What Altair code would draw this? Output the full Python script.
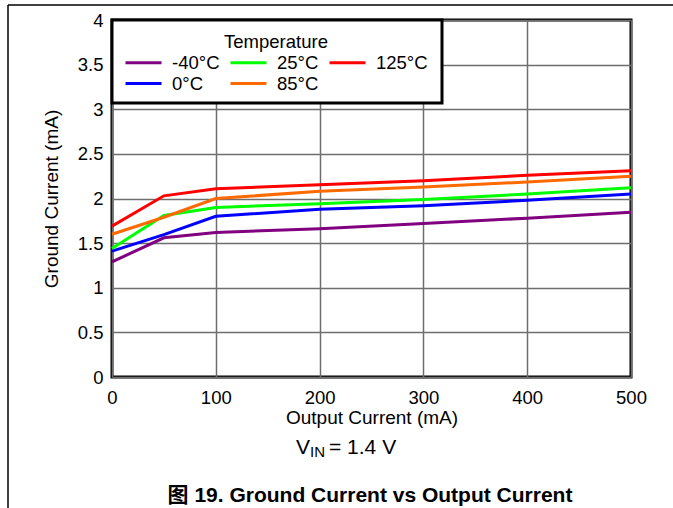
import altair as alt
import pandas as pd

# ---- data ----
output_current = [0, 50, 100, 200, 300, 400, 500]
temps = ["-40°C", "0°C", "25°C", "85°C", "125°C"]
gnd_m40 = [1.29, 1.56, 1.62, 1.66, 1.72, 1.78, 1.845]
gnd_0 = [1.41, 1.595, 1.80, 1.88, 1.92, 1.98, 2.05]
gnd_25 = [1.44, 1.81, 1.90, 1.94, 1.99, 2.05, 2.12]
gnd_85 = [1.60, 1.79, 2.00, 2.08, 2.13, 2.185, 2.25]
gnd_125 = [1.69, 2.03, 2.11, 2.155, 2.20, 2.26, 2.31]
series = [gnd_m40, gnd_0, gnd_25, gnd_85, gnd_125]

legend_order = ["-40°C", "25°C", "125°C", "0°C", "85°C"]
legend_colors = ["#800080", "#00ff00", "#ff0000", "#0000ff", "#ff6a00"]

x_ticks = [0, 100, 200, 300, 400, 500]
y_ticks = [0, 0.5, 1, 1.5, 2, 2.5, 3, 3.5, 4]

rows = []
for t, vals in zip(temps, series):
    for xv, yv in zip(output_current, vals):
        rows.append({"Output": xv, "Ground": yv, "Temperature": t})
df = pd.DataFrame(rows)
one = pd.DataFrame({"k": [0]})

FONT = "Liberation Sans, Arial, 'Noto Sans CJK SC', sans-serif"
W, H = 519, 357
FS = 18.5

lines = alt.Chart(df).mark_line(strokeWidth=3).encode(
    x=alt.X("Output:Q",
            scale=alt.Scale(domain=[0, 500], nice=False, zero=False),
            axis=alt.Axis(values=x_ticks, title="Output Current (mA)",
                          labelPadding=11, titlePadding=2, format="d",
                          labelFlush=False)),
    y=alt.Y("Ground:Q",
            scale=alt.Scale(domain=[0, 4], nice=False),
            axis=alt.Axis(values=y_ticks, title="Ground Current (mA)",
                          format="~g", labelPadding=9, titlePadding=16,
                          labelFlush=False)),
    color=alt.Color("Temperature:N",
                    sort=legend_order,
                    scale=alt.Scale(domain=legend_order, range=legend_colors),
                    legend=alt.Legend(orient="none", legendX=12, legendY=13,
                                      direction="horizontal", columns=3,
                                      title="Temperature", titleAnchor="middle",
                                      symbolType="stroke", symbolSize=1296,
                                      symbolStrokeWidth=3, columnPadding=9,
                                      rowPadding=2, labelOffset=9,
                                      clipHeight=18, titlePadding=2)),
)

legend_box = alt.Chart(one).mark_rect(fill="white", stroke="black", strokeWidth=3).encode(
    x=alt.value(0), x2=alt.value(330), y=alt.value(0), y2=alt.value(83)
)

frame_top = alt.Chart(one).mark_rule(color="black", strokeWidth=1.5).encode(
    x=alt.value(-104), x2=alt.value(565), y=alt.value(-15)
)
frame_left = alt.Chart(one).mark_rule(color="black", strokeWidth=1.5).encode(
    x=alt.value(-104), y=alt.value(-15), y2=alt.value(492)
)

v_main = alt.Chart(one).mark_text(fontSize=21, font=FONT, align="left", baseline="alphabetic", color="black").encode(
    x=alt.value(184), y=alt.value(434), text=alt.value("V")
)
v_sub = alt.Chart(one).mark_text(fontSize=15, font=FONT, align="left", baseline="alphabetic", color="black").encode(
    x=alt.value(198), y=alt.value(437), text=alt.value("IN")
)
v_rest = alt.Chart(one).mark_text(fontSize=21, font=FONT, align="left", baseline="alphabetic", color="black").encode(
    x=alt.value(217), y=alt.value(434), text=alt.value("= 1.4 V")
)
caption = alt.Chart(one).mark_text(fontSize=21, font=FONT, fontWeight="bold", align="center", baseline="alphabetic", color="black").encode(
    x=alt.value(258), y=alt.value(482), text=alt.value("图 19. Ground Current vs Output Current")
)

chart = alt.layer(lines, legend_box, frame_top, frame_left, v_main, v_sub, v_rest, caption).properties(
    width=W, height=H,
    autosize=alt.AutoSizeParams(type="none"),
    padding={"left": 112, "top": 20, "right": 42, "bottom": 131},
    background="white",
).configure_view(
    stroke="black", strokeWidth=3
).configure_axis(
    grid=True, gridColor="#6e6e6e", gridWidth=1.5, domain=False, ticks=False,
    labelFont=FONT, labelFontSize=FS, labelColor="black",
    titleFont=FONT, titleFontSize=19, titleFontWeight="normal", titleColor="black"
).configure_legend(
    labelFont=FONT, labelFontSize=FS, labelColor="black",
    titleFont=FONT, titleFontSize=FS, titleFontWeight="normal", titleColor="black"
)

chart.save("out.html", embed_options={"renderer": "svg", "actions": False})
